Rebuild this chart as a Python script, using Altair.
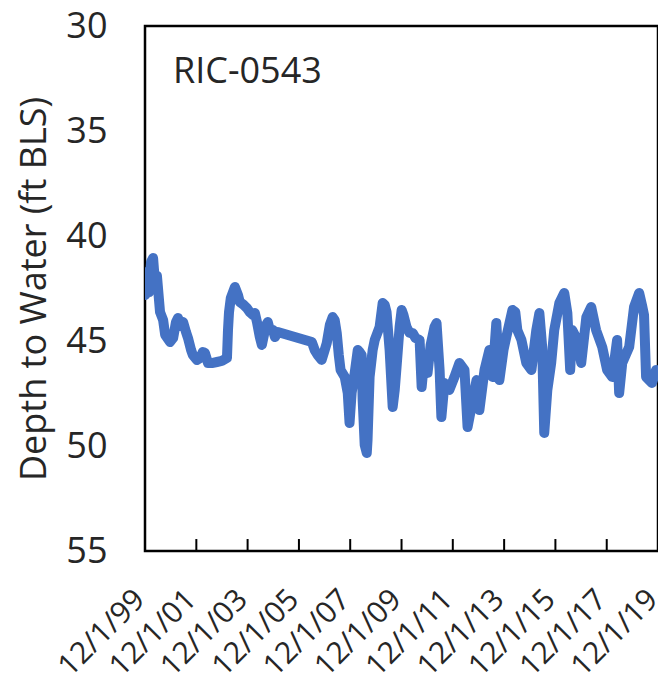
import altair as alt
import pandas as pd

# Series (decimal years, depth to water in ft BLS)
years = [1999.92, 1999.99, 2000.07, 2000.15, 2000.23, 2000.31, 2000.38, 2000.50, 2000.62, 2000.70,
         2000.89, 2001.01, 2001.12, 2001.20, 2001.32, 2001.40, 2001.51, 2001.59, 2001.71, 2001.78,
         2001.94, 2002.06, 2002.17, 2002.25, 2002.37, 2002.52, 2002.72, 2002.91, 2003.11, 2003.15,
         2003.19, 2003.26, 2003.42, 2003.54, 2003.61, 2003.77, 2003.89, 2004.00, 2004.12, 2004.20,
         2004.28, 2004.39, 2004.47, 2004.55, 2004.63, 2004.70, 2004.78, 2004.90, 2004.98, 2005.09,
         2006.42, 2006.53, 2006.65, 2006.80, 2006.92, 2007.00, 2007.12, 2007.23, 2007.31, 2007.39,
         2007.47, 2007.54, 2007.70, 2007.82, 2007.89, 2007.97, 2008.09, 2008.21, 2008.28, 2008.36,
         2008.40, 2008.48, 2008.56, 2008.59, 2008.67, 2008.79, 2008.87, 2009.06, 2009.18, 2009.26,
         2009.33, 2009.45, 2009.57, 2009.65, 2009.72, 2009.84, 2009.92, 2009.99, 2010.11, 2010.23,
         2010.35, 2010.46, 2010.62, 2010.70, 2010.81, 2010.93, 2011.05, 2011.20, 2011.28, 2011.40,
         2011.47, 2011.59, 2011.78, 2011.98, 2012.17, 2012.37, 2012.49, 2012.64, 2012.84, 2012.95,
         2013.15, 2013.34, 2013.46, 2013.61, 2013.73, 2013.89, 2014.00, 2014.24, 2014.35, 2014.43,
         2014.59, 2014.78, 2014.98, 2015.17, 2015.29, 2015.40, 2015.48, 2015.60, 2015.75, 2015.87,
         2016.07, 2016.26, 2016.38, 2016.49, 2016.57, 2016.77, 2016.92, 2017.12, 2017.31, 2017.50,
         2017.74, 2017.93, 2018.13, 2018.32, 2018.40, 2018.52, 2018.79, 2018.98, 2019.18, 2019.29,
         2019.37, 2019.45, 2019.68, 2019.84, 2019.91]
depths = [42.81, 41.71, 42.67, 41.24, 41.05, 42.33, 41.90, 43.62, 44.00, 44.71,
          45.05, 44.86, 44.10, 43.90, 44.29, 44.10, 44.57, 44.86, 45.43, 45.67,
          45.90, 45.81, 45.52, 45.57, 46.05, 46.05, 46.00, 45.95, 45.81, 44.48,
          43.62, 42.95, 42.43, 42.81, 43.14, 43.29, 43.43, 43.62, 43.76, 43.67,
          44.10, 44.81, 45.19, 44.71, 44.24, 44.10, 44.48, 44.48, 44.81, 44.57,
          45.05, 45.43, 45.67, 45.90, 45.43, 45.10, 44.24, 43.86, 44.00, 44.62,
          45.67, 46.38, 46.71, 47.48, 48.90, 47.48, 46.52, 45.43, 45.52, 45.67,
          47.81, 49.95, 50.33, 49.71, 46.71, 45.43, 44.95, 44.33, 43.19, 43.29,
          43.62, 45.43, 48.14, 47.33, 46.24, 44.33, 43.52, 43.76, 44.33, 44.62,
          44.62, 44.86, 44.95, 47.19, 45.76, 46.52, 45.19, 44.33, 44.14, 46.38,
          48.62, 47.00, 47.33, 46.71, 46.05, 46.38, 49.10, 48.14, 46.86, 48.29,
          46.38, 45.43, 46.71, 44.14, 46.86, 45.43, 44.81, 43.52, 43.62, 44.48,
          44.95, 46.05, 46.38, 44.48, 43.67, 45.29, 49.38, 47.33, 46.05, 44.48,
          43.19, 42.71, 43.67, 46.38, 44.48, 44.95, 46.05, 43.86, 43.38, 44.48,
          45.29, 46.38, 46.71, 44.95, 47.48, 46.05, 45.29, 43.38, 42.71, 43.29,
          43.76, 46.71, 47.00, 46.38, 46.48]

tick_years = [1999, 2001, 2003, 2005, 2007, 2009, 2011, 2013, 2015, 2017, 2019]
inner_tick_years = [2001, 2003, 2005, 2007, 2009, 2011, 2013, 2015, 2017]
y_ticks = [30, 35, 40, 45, 50, 55]
well_name = ["RIC-0543"]


def to_ts(y):
    yr = int(y)
    frac = y - yr
    start = pd.Timestamp(year=yr, month=1, day=1)
    end = pd.Timestamp(year=yr + 1, month=1, day=1)
    return start + (end - start) * frac


df = pd.DataFrame({"date": [to_ts(v) for v in years], "depth": depths})
ticks_df = pd.DataFrame({"date": [pd.Timestamp(year=y, month=12, day=1) for y in inner_tick_years]})
name_df = pd.DataFrame({"label": well_name})

FONT = "Open Sans"
TEXT = "#262626"
BLUE = "#4472C4"

x_scale = alt.Scale(domain=[alt.DateTime(year=1999, month=12, date=1),
                            alt.DateTime(year=2019, month=12, date=1)], nice=False)
y_scale = alt.Scale(domain=[30, 55], reverse=True, nice=False, zero=False)

x_axis = alt.Axis(values=[alt.DateTime(year=y, month=12, date=1) for y in tick_years],
                  format="%-m/%-d/%y", labelAngle=-45, labelAlign="right", labelBaseline="top",
                  labelFontSize=30, labelFont=FONT, labelColor=TEXT, labelPadding=33,
                  labelOffset=-16,
                  labelOverlap=False, labelFlush=False, labelBound=False,
                  ticks=False, domain=False, grid=False, title=None)
y_axis = alt.Axis(values=y_ticks, labelFontSize=36, labelFont=FONT, labelColor=TEXT,
                  labelPadding=38, ticks=False, domain=False, grid=False,
                  title="Depth to Water (ft BLS)", titleFontSize=36, titleFont=FONT,
                  titleFontWeight="normal", titleColor=TEXT, titlePadding=12)

line = alt.Chart(df).mark_line(color=BLUE, strokeWidth=10, strokeCap="round",
                               strokeJoin="round", clip=True).encode(
    x=alt.X("date:T", scale=x_scale, axis=x_axis),
    y=alt.Y("depth:Q", scale=y_scale, axis=y_axis),
)

inner_ticks = alt.Chart(ticks_df).mark_rule(color="black", strokeWidth=2).encode(
    x=alt.X("date:T", scale=x_scale),
    y=alt.datum(55),
    y2=alt.datum(54.43),
)

name = alt.Chart(name_df).mark_text(align="left", baseline="alphabetic", fontSize=36,
                                    font=FONT, color=TEXT).encode(
    text="label:N", x=alt.value(28), y=alt.value(57))

chart = alt.layer(line, inner_ticks, name).properties(
    width=513, height=525,
    autosize=alt.AutoSizeParams(type="none"),
    padding={"left": 137, "top": 18, "right": 0, "bottom": 136},
    background="white",
).configure_view(stroke="black", strokeWidth=2.5)

chart.save("out.html", embed_options={"renderer": "svg", "actions": False})
